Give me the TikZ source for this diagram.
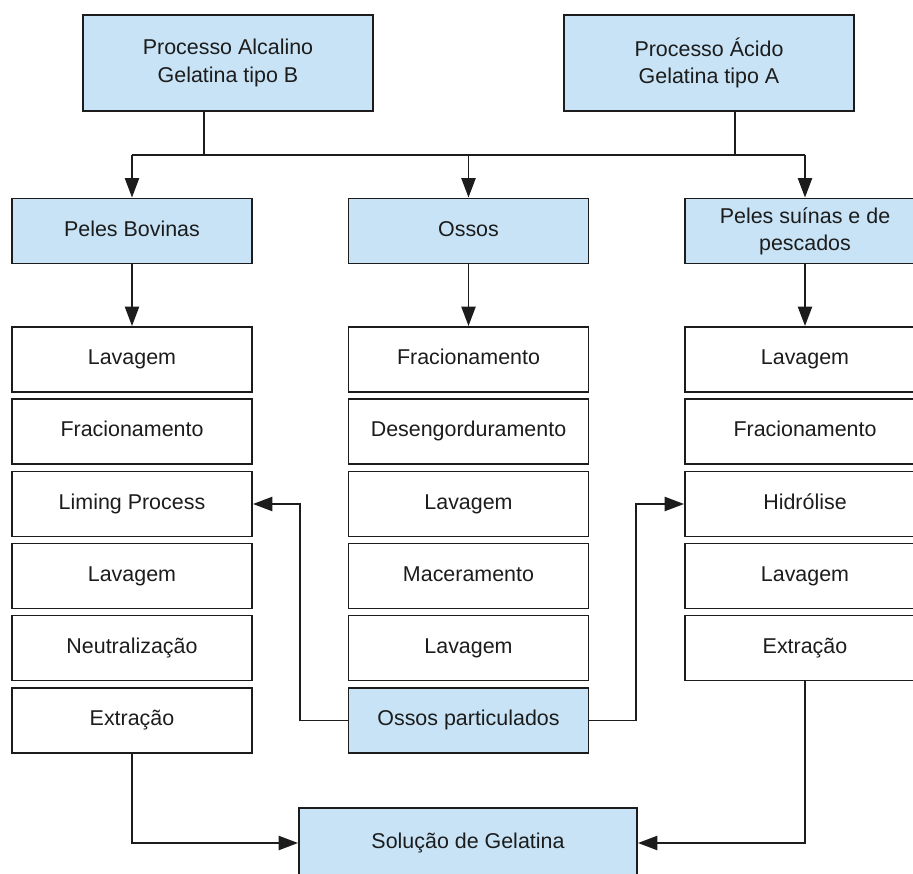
\documentclass[tikz,border=0pt]{standalone}
\usepackage{fontspec}
\setmainfont{Liberation Sans}
\usetikzlibrary{positioning,arrows.meta}
\definecolor{boxblue}{RGB}{199,227,245}
\definecolor{ink}{RGB}{28,28,28}

\begin{document}
\begin{tikzpicture}[x=0.02cm,y=-0.02cm,line width=1.1pt,draw=ink,
  every node/.style={draw=ink,line width=1.1pt,text=ink,align=center,inner sep=2pt,text height=8.8pt,text depth=2.6pt,font=\fontsize{12.2}{15.5}\selectfont},
  proc/.style={fill=boxblue},
  twoline/.style={text height=,text depth=},
  stage/.style={minimum width=4.8cm,minimum height=1.3cm},
  arr/.style={-{Triangle[length=11pt,width=8pt]}}]
\useasboundingbox (0,0) rectangle (913,874);

\coordinate(j1) at (132,155);
\coordinate(j2) at (805,155);
\coordinate(h1) at (204,155);
\coordinate(h2) at (735,155);
\coordinate(k1) at (300,0);
\coordinate(k2) at (636,0);

\node[proc,twoline,minimum width=5.8cm,minimum height=1.92cm] (alc) at (228,63) {Processo Alcalino\\Gelatina tipo B};
\node[proc,twoline,minimum width=5.8cm,minimum height=1.92cm] (aci) at (709,63) {Processo Ácido\\Gelatina tipo A};

\node[proc,stage] (pb) at (132,231) {Peles Bovinas};
\node[proc,stage] (os) at (468.5,231) {Ossos};
\node[proc,stage,twoline] (ps) at (805,231) {Peles suínas e de\\pescados};

\node[stage] (l1) at (132,359.5) {Lavagem};
\node[stage] (l2) at (132,431.5) {Fracionamento};
\node[stage] (l3) at (132,504) {Liming Process};
\node[stage] (l4) at (132,576) {Lavagem};
\node[stage] (l5) at (132,648) {Neutralização};
\node[stage] (l6) at (132,720.5) {Extração};

\node[stage] (m1) at (468.5,359.5) {Fracionamento};
\node[stage] (m2) at (468.5,431.5) {Desengorduramento};
\node[stage] (m3) at (468.5,504) {Lavagem};
\node[stage] (m4) at (468.5,576) {Maceramento};
\node[stage] (m5) at (468.5,648) {Lavagem};
\node[proc,stage] (op) at (468.5,720.5) {Ossos particulados};

\node[stage] (r1) at (805,359.5) {Lavagem};
\node[stage] (r2) at (805,431.5) {Fracionamento};
\node[stage] (r3) at (805,504) {Hidrólise};
\node[stage] (r4) at (805,576) {Lavagem};
\node[stage] (r5) at (805,648) {Extração};

\node[proc,minimum width=6.76cm,minimum height=1.4cm] (sg) at (468,843) {Solução de Gelatina};

\draw (alc.south -| h1) -- (h1);
\draw (aci.south -| h2) -- (h2);
\draw (j1) -- (j2);
\draw[arr] (j1) -- (pb);
\draw[arr] (j1 -| os) -- (os);
\draw[arr] (j2) -- (ps);
\draw[arr] (pb) -- (l1);
\draw[arr] (os) -- (m1);
\draw[arr] (ps) -- (r1);
\draw[arr] (op.west) -| (k1 |- l3) -- (l3.east);
\draw[arr] (op.east) -| (k2 |- r3) -- (r3.west);
\draw[arr] (l6.south) |- (sg.west);
\draw[arr] (r5.south) |- (sg.east);
\end{tikzpicture}
\end{document}
